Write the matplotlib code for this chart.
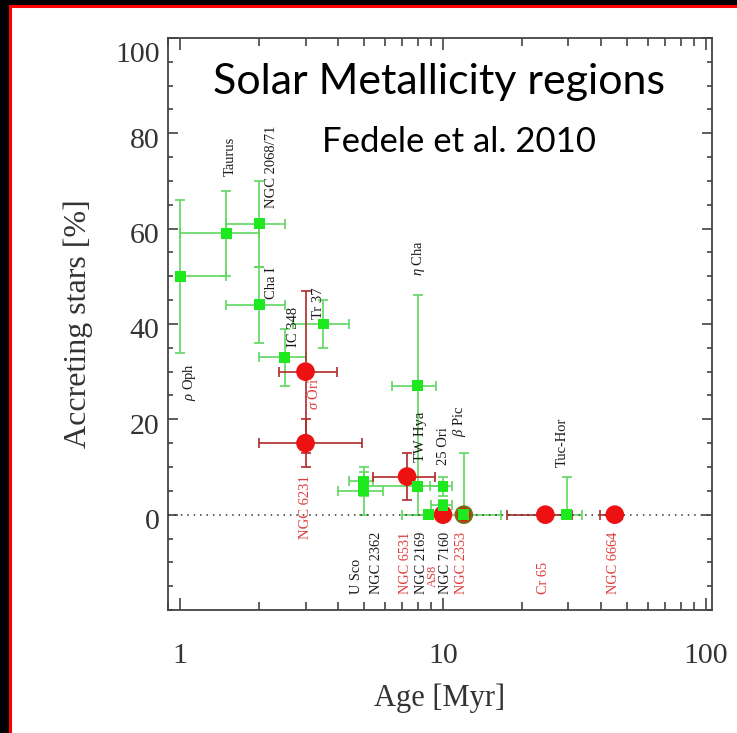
import numpy as np
import matplotlib
matplotlib.use("Agg")
import matplotlib.pyplot as plt
import matplotlib.transforms as mtransforms
from matplotlib.patches import Rectangle
from matplotlib.lines import Line2D
from matplotlib.ticker import LogLocator, MultipleLocator, FixedLocator, NullFormatter, FixedFormatter

plt.rcParams["font.family"] = ["Liberation Serif", "DejaVu Serif"]
plt.rcParams["mathtext.fontset"] = "custom"
plt.rcParams["mathtext.rm"] = "Liberation Serif"
plt.rcParams["mathtext.it"] = "Liberation Serif:italic"

# ---- solar-metallicity regions (green squares) ----
g_names = ["rho Oph", "Taurus", "NGC 2068/71", "Cha I", "IC 348", "Tr 37", "eta Cha",
           "U Sco", "NGC 2362", "TW Hya", "25 Ori", "NGC 7160", "NGC 2169", "beta Pic", "Tuc-Hor"]
g_age = [1.0, 1.5, 2.0, 2.0, 2.5, 3.5, 8.0, 5.0, 5.0, 8.0, 10.0, 10.0, 8.8, 12.0, 29.5]
g_age_lo = [1.0, 1.0, 1.5, 1.5, 2.0, 2.7, 6.4, 4.4, 4.0, 5.0, 8.9, 9.0, 8.8, 7.0, 26.0]
g_age_hi = [1.5, 2.0, 2.5, 2.5, 3.0, 4.4, 9.4, 5.4, 5.9, 10.0, 10.8, 10.8, 8.8, 16.6, 33.7]
g_frac = [50, 59, 61, 44, 33, 40, 27, 7, 5, 6, 6, 2, 0, 0, 0]
g_frac_lo = [34, 50, 52, 36, 27, 35, 0, 4, 0, 6, 4, 1, 0, 0, 0]
g_frac_hi = [66, 68, 70, 52, 39, 45, 46, 10, 9, 6, 8, 3, 0, 13, 8]

# ---- clusters from Fedele et al. 2010 (red circles) ----
r_names = ["sigma Ori", "NGC 6231", "NGC 6531", "AS8", "NGC 2353", "Cr 65", "NGC 6664"]
r_age = [3.0, 3.0, 7.3, 10.0, 12.0, 24.5, 45.0]
r_age_lo = [2.38, 2.0, 5.4, 10.0, 12.0, 17.5, 39.5]
r_age_hi = [3.95, 4.9, 9.3, 10.0, 12.0, 31.0, 48.0]
r_frac = [30, 15, 8, 0, 0, 0, 0]
r_frac_lo = [13, 10, 3, 0, 0, 0, 0]
r_frac_hi = [47, 20, 13, 0, 0, 0, 0]

# ---- region names written next to the points ----
upper_labels = [r"$\rho$ Oph", "Taurus", "NGC 2068/71", "Cha I", "IC 348", "Tr 37",
                r"$\sigma$ Ori", r"$\eta$ Cha", "TW Hya", "25 Ori", r"$\beta$ Pic", "Tuc-Hor"]
upper_x = [1.09, 1.55, 2.22, 2.22, 2.69, 3.35, 3.23, 8.1, 8.2, 10.0, 11.6, 28.3]
upper_y = [23.8, 71, 64.4, 45.3, 35.2, 41, 22, 50, 11, 10.5, 16.2, 10.1]
upper_red = [False, False, False, False, False, False, True, False, False, False, False, False]

lower_labels = ["U Sco", "NGC 2362", "NGC 6531", "NGC 2169", "AS8", "NGC 7160", "NGC 2353",
                "Cr 65", "NGC 6664"]
lower_x = [4.7, 5.6, 7.2, 8.3, 9.15, 10.25, 11.8, 24.2, 44.5]
lower_y = [-16.6, -16.6, -16.6, -16.6, -15.2, -16.6, -16.6, -16.6, -16.6]
lower_red = [False, False, True, False, True, False, True, True, True]

GREEN = "#1ee81e"
GREEN_BAR = "#5fd85f"
RED = "#ee1111"
RED_BAR = "#b02a2a"
RED_TXT = "#e03a3a"
BLACK_TXT = "#1a1a1a"

W, H = 737, 733
fig = plt.figure(figsize=(W / 100, H / 100), dpi=100, facecolor="white")
# dark slide margin along the top and left, with a red rule at the panel edge
fig.add_artist(Rectangle((0, 1 - 6 / H), 1, 6 / H, transform=fig.transFigure,
                         facecolor="black", edgecolor="none", zorder=0))
fig.add_artist(Rectangle((0, 0), 10 / W, 1, transform=fig.transFigure,
                         facecolor="black", edgecolor="none", zorder=0))
fig.add_artist(Line2D([10 / W, 1], [1 - 6 / H, 1 - 6 / H], transform=fig.transFigure,
                      color="red", lw=2.2, zorder=1))
fig.add_artist(Line2D([10 / W, 10 / W], [0, 1 - 6 / H], transform=fig.transFigure,
                      color="red", lw=2.2, zorder=1))

ax = fig.add_axes([168 / W, (H - 610) / H, 544 / W, 572 / H])
ax.set_facecolor("white")
ax.set_xscale("log")
ax.set_xlim(0.9, 105.4)
ax.set_ylim(-20, 100)

ax.axhline(0, color="#333333", ls=(0, (1, 3.2)), lw=1.1, zorder=4)

def asym(v, lo, hi):
    v, lo, hi = map(np.asarray, (v, lo, hi))
    return np.vstack([v - lo, hi - v])

ax.errorbar(g_age, g_frac, xerr=asym(g_age, g_age_lo, g_age_hi),
            yerr=asym(g_frac, g_frac_lo, g_frac_hi), fmt="none", ecolor=GREEN_BAR,
            elinewidth=1.2, capsize=3.6, capthick=1.2, zorder=2)
ax.errorbar(r_age, r_frac, xerr=asym(r_age, r_age_lo, r_age_hi),
            yerr=asym(r_frac, r_frac_lo, r_frac_hi), fmt="none", ecolor=RED_BAR,
            elinewidth=1.2, capsize=3.6, capthick=1.2, zorder=3)

edge = ["#7a6a10" if n == "NGC 2353" else RED for n in r_names]
ax.scatter(r_age, r_frac, s=135, marker="o", c=RED, edgecolors=edge, linewidths=1.8, zorder=5)
ax.scatter(g_age, g_frac, s=62, marker="s", c=GREEN, edgecolors="none", zorder=6)

for t, x, y, red in zip(upper_labels, upper_x, upper_y, upper_red):
    ax.text(x, y, t, rotation=90, ha="center", va="bottom", fontsize=10.5,
            color=RED_TXT if red else BLACK_TXT, zorder=7)
for t, x, y, red in zip(lower_labels, lower_x, lower_y, lower_red):
    ax.text(x, y, t, rotation=90, ha="center", va="bottom",
            fontsize=9 if t == "AS8" else 10.3,
            color=RED_TXT if red else BLACK_TXT, zorder=7)
ax.text(3.0, 8.4, "NGC 6231", rotation=90, ha="center", va="top", fontsize=10.5,
        color=RED_TXT, zorder=7)

# axes styling
for s in ax.spines.values():
    s.set_color("#444444")
    s.set_linewidth(1.3)
ax.xaxis.set_major_locator(FixedLocator([1, 10, 100]))
ax.xaxis.set_major_formatter(FixedFormatter(["1", "10", "100"]))
ax.xaxis.set_minor_locator(LogLocator(base=10, subs=np.arange(2, 10)))
ax.xaxis.set_minor_formatter(NullFormatter())
ax.yaxis.set_major_locator(FixedLocator([0, 20, 40, 60, 80, 100]))
ax.yaxis.set_minor_locator(MultipleLocator(5))
ax.tick_params(which="both", direction="in", top=True, right=True, color="#333333", width=1.1)
ax.tick_params(axis="x", which="major", length=8.5, pad=24, labelsize=21.5)
ax.tick_params(axis="x", which="minor", length=5.5)
ax.tick_params(axis="y", which="major", length=7.5, pad=6, labelsize=21.5)
ax.tick_params(axis="y", which="minor", length=3.8)
for lab in ax.get_xticklabels() + ax.get_yticklabels():
    lab.set_color("#333333")

# y tick labels sit slightly below their ticks, the top one noticeably so
for tick in ax.yaxis.get_major_ticks():
    dy = -10 / 72 if tick.get_loc() == 100 else -3 / 72
    off = mtransforms.ScaledTranslation(0, dy, fig.dpi_scale_trans)
    tick.label1.set_transform(tick.label1.get_transform() + off)

ax.set_xlabel("Age [Myr]", fontsize=22, color="#333333")
ax.xaxis.set_label_coords(0.5, -0.128)
ax.set_ylabel("Accreting stars [%]", fontsize=23, color="#333333")
ax.yaxis.set_label_coords(-0.138, 0.5)

fig.text(439 / W, 1 - 82 / H, "Solar Metallicity regions", ha="center", va="center",
         fontsize=31, family="Lato", color="black")
fig.text(459 / W, 1 - 142 / H, "Fedele et al. 2010", ha="center", va="center",
         fontsize=25, family="Lato", color="black")

fig.savefig("out.png", dpi=100, facecolor=fig.get_facecolor())
